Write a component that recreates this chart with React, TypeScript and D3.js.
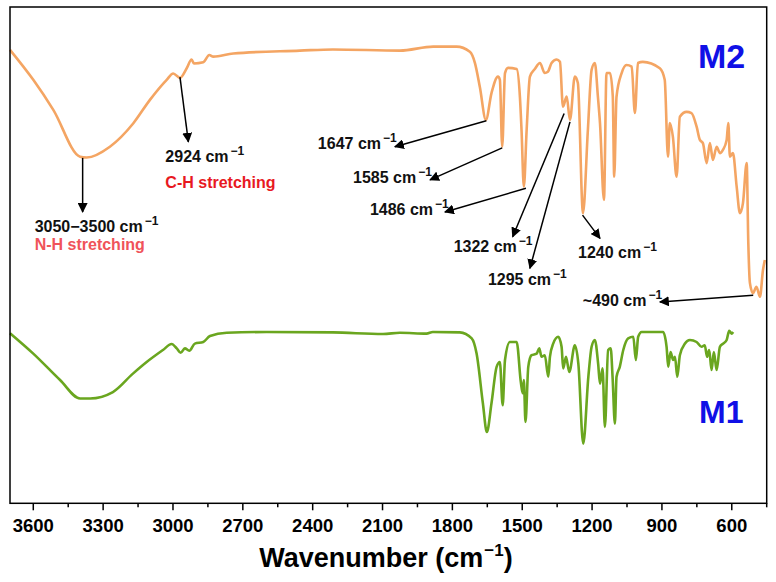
import React from "react";
import * as d3 from "d3";

// FTIR spectra, M2 (top, offset) and M1 (bottom)
const m2Wavenumber = [
  3700, 3600, 3514, 3399, 3371, 3271, 3171, 3099, 3027, 2999, 2970, 2941, 2920, 2910, 2870, 2844, 2827,
  2741, 2455, 2313, 2025, 1882, 1782, 1725, 1703, 1682, 1656, 1632, 1604, 1596, 1586, 1574, 1561, 1524,
  1510, 1503, 1493, 1481, 1467, 1446, 1424, 1403, 1390, 1374, 1352, 1338, 1325, 1309, 1295, 1274, 1261,
  1239, 1218, 1202, 1188, 1175, 1166, 1149, 1138, 1123, 1111, 1105, 1095, 1073, 1052, 1030, 1016, 1003,
  982, 909, 888, 874, 866, 853, 837, 823, 794, 773, 751, 737, 724, 708, 694, 681, 665, 651, 638, 622,
  615, 608, 595, 579, 565, 552, 536, 529, 522, 509, 494, 479, 466, 458,
];
const m2Transmittance = [
  113.3, 105.8, 98.3, 86.6, 86.4, 89.1, 94.9, 100.8, 105.8, 107.4, 106.3, 108.7, 110.9, 109.9, 110.2, 112, 111.6,
  112.4, 113.1, 113.4, 113.1, 114.1, 114.1, 112.8, 110, 104, 95.8, 102.5, 106.6, 105.8, 89.1, 107.5, 108.8, 108.5,
  101.6, 93.3, 79.1, 93.3, 106.6, 108.5, 110, 107.5, 107.8, 110, 110.9, 110.3, 99.1, 101.6, 95.8, 106.6, 105,
  72.5, 93.3, 108.3, 110, 101.6, 95, 75.8, 107.5, 107.5, 101.6, 81.6, 101.6, 107.5, 109.5, 109.1, 97.5, 110,
  110.3, 108.7, 105.8, 86.6, 95, 91.6, 81.6, 96.6, 97.8, 97.5, 94.1, 90.8, 90, 85, 90, 85.8, 89.1, 87.5, 88.3, 90.8,
  95, 86.6, 87.5, 79.1, 72.5, 75, 85, 65, 55, 52.5, 54.1, 51.6, 58.3, 60.8,
];

const m1Wavenumber = [
  3700, 3600, 3485, 3399, 3356, 3258, 3172, 3113, 3043, 3006, 2984, 2967, 2949, 2930, 2906, 2870, 2841,
  2769, 2598, 2313, 2098, 2025, 1911, 1884, 1768, 1717, 1696, 1669, 1652, 1632, 1610, 1596, 1584, 1574,
  1553, 1524, 1506, 1498, 1493, 1486, 1474, 1460, 1438, 1427, 1417, 1403, 1388, 1381, 1367, 1345, 1331,
  1324, 1312, 1298, 1274, 1259, 1238, 1216, 1202, 1188, 1174, 1166, 1155, 1145, 1131, 1120, 1112, 1102,
  1095, 1081, 1066, 1045, 1023, 1012, 1002, 987, 895, 880, 873, 863, 852, 844, 834, 823, 801, 780, 751,
  730, 716, 706, 697, 687, 677, 665, 651, 637, 622, 611, 601, 594,
];
const m1Transmittance = [
  42.5, 37.4, 30.8, 26.2, 26.2, 27.8, 32.4, 35.3, 38.3, 39.8, 38.7, 37.6, 38.7, 38.1, 39.9, 40.3, 41.8,
  42.6, 42.8, 42.7, 42.3, 42.6, 42.4, 42.8, 42.7, 41.2, 37.4, 25, 17.8, 25, 34.1, 35.3, 24.5, 35.8,
  40.3, 40.3, 30.3, 27.5, 30.8, 20.3, 34.1, 37, 37.4, 38.7, 36.6, 37, 31.6, 36.6, 39.9, 41.6, 39.1,
  33.7, 36.6, 32.8, 39.5, 34.9, 14.9, 31.6, 39.1, 40.8, 34.9, 29.9, 33.7, 19.1, 38.3, 38.7, 31.6, 19.9,
  31.6, 34.1, 38.3, 41.2, 41.6, 35.8, 41.6, 42.8, 42.8, 39.1, 34.1, 37.8, 35.8, 36.6, 31.6, 37, 39.9, 40.8, 40.3,
  39.1, 39.5, 36.6, 38.3, 33.3, 37.8, 33.3, 39.1, 39.9, 40.8, 43.1, 42.4, 42.8,
];

const majorTicks = [3600, 3300, 3000, 2700, 2400, 2100, 1800, 1500, 1200, 900, 600];
const minorTicks = [3450, 3150, 2850, 2550, 2250, 1950, 1650, 1350, 1050, 750, 450];

// arrow tail on the curve, arrow tip, text offset from tip (px)
const annotations = [
  { label: "3050\u22123500", note: "N-H stretching", noteColor: "#f0535a", noteDy: 18, wn: 3388, t: 86.3, tipWn: 3388, tipT: 72.8, dx: -48, dy: 20 },
  { label: "2924", note: "C-H stretching", noteColor: "#e8191f", noteDy: 26, wn: 2970, t: 106.5, tipWn: 2934, tipT: 90.3, dx: -23, dy: 20 },
  { label: "1647", wn: 1654, t: 95.6, tipWn: 2047, tipT: 89.1, dx: -77, dy: 2 },
  { label: "1585", wn: 1586, t: 88.8, tipWn: 1896, tipT: 80.8, dx: -77, dy: 3 },
  { label: "1486", wn: 1484, t: 78.7, tipWn: 1832, tipT: 72.8, dx: -75, dy: 3 },
  { label: "1322", wn: 1320, t: 97.4, tipWn: 1541, tipT: 66.6, dx: -59, dy: 15 },
  { label: "1295", wn: 1295, t: 95.3, tipWn: 1467, tipT: 58.7, dx: -42, dy: 17 },
  { label: "1240", wn: 1241, t: 72, tipWn: 1166, tipT: 66.2, dx: -22, dy: 20 },
  { label: "~490", wn: 508, t: 52, tipWn: 909, tipT: 50.3, dx: -77, dy: 4 },
];

const W = 776;
const H = 582;
const frame = { left: 10, right: 766.7, top: 7, bottom: 503.3 };
const font = "'Liberation Sans', Arial, Helvetica, sans-serif";

export default function App() {
  const x = d3.scaleLinear().domain([3700, 450]).range([frame.left, frame.right]);
  const y = d3.scaleLinear().domain([0, 124]).range([frame.bottom, frame.top]);

  const line = d3
    .line<[number, number]>()
    .x((d) => x(d[0]))
    .y((d) => y(d[1]))
    .curve(d3.curveMonotoneX);

  const m2 = d3.zip(m2Wavenumber, m2Transmittance) as [number, number][];
  const m1 = d3.zip(m1Wavenumber, m1Transmittance) as [number, number][];

  return (
    <svg
      width={W}
      height={H}
      style={{ position: "absolute", left: 0, top: 0, background: "#fff" }}
      fontFamily={font}
    >
      <defs>
        <marker id="arrow" viewBox="0 0 10 10" refX="9" refY="5" markerWidth="10" markerHeight="10" markerUnits="userSpaceOnUse" orient="auto">
          <path d="M0,0 L10,5 L0,10 z" fill="#000" />
        </marker>
      </defs>

      <path d={line(m2) || ""} fill="none" stroke="#f4a563" strokeWidth={2.6} strokeLinejoin="round" />
      <path d={line(m1) || ""} fill="none" stroke="#6aa61f" strokeWidth={2.6} strokeLinejoin="round" />

      {annotations.map((a) => {
        const tx = x(a.tipWn) + a.dx;
        const ty = y(a.tipT) + a.dy;
        return (
          <g key={a.label}>
            <line
              x1={x(a.wn)}
              y1={y(a.t)}
              x2={x(a.tipWn)}
              y2={y(a.tipT)}
              stroke="#000"
              strokeWidth={1.5}
              markerEnd="url(#arrow)"
            />
            <text x={tx} y={ty} fontSize={16} fontWeight="bold" fill="#111">
              {a.label} cm
              <tspan dx={2} dy={-7} fontSize={12}>
                {"\u22121"}
              </tspan>
            </text>
            {a.note && (
              <text x={tx} y={ty + (a.noteDy || 18)} fontSize={16} fontWeight="bold" fill={a.noteColor}>
                {a.note}
              </text>
            )}
          </g>
        );
      })}

      <text x={698} y={68} fontSize={34} fontWeight="bold" fill="#1010e6">M2</text>
      <text x={699} y={423} fontSize={32} fontWeight="bold" fill="#1010e6">M1</text>

      <rect
        x={frame.left}
        y={frame.top}
        width={frame.right - frame.left}
        height={frame.bottom - frame.top}
        fill="none"
        stroke="#000"
        strokeWidth={1.5}
      />

      {majorTicks.map((t) => (
        <g key={t} transform={`translate(${x(t)},${frame.bottom})`}>
          <line y2={7} stroke="#000" strokeWidth={1.5} />
          <text y={29} textAnchor="middle" fontSize={18.5} fontWeight="bold" fill="#000">
            {t}
          </text>
        </g>
      ))}
      {minorTicks.map((t) => (
        <line key={t} x1={x(t)} x2={x(t)} y1={frame.bottom} y2={frame.bottom + 4} stroke="#000" strokeWidth={1.5} />
      ))}

      <text x={386} y={567} textAnchor="middle" fontSize={27} fontWeight="bold" fill="#000">
        Wavenumber (cm
        <tspan dx={1} dy={-11} fontSize={17}>
          {"\u22121"}
        </tspan>
        <tspan dy={11}>)</tspan>
      </text>
    </svg>
  );
}
